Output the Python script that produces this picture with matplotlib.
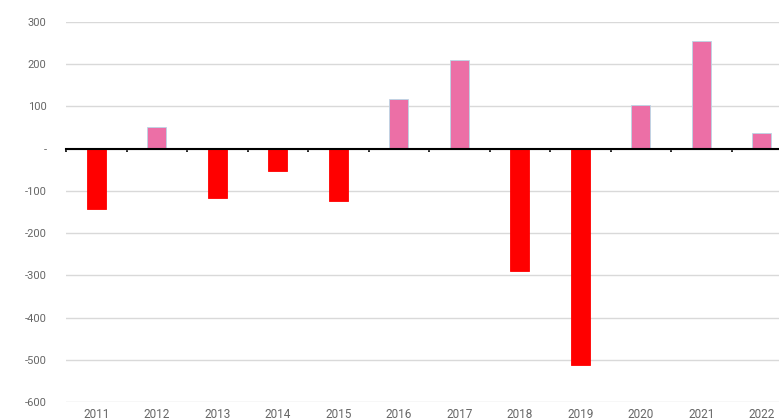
import matplotlib
matplotlib.use("Agg")
import matplotlib.pyplot as plt
import numpy as np

# Data
years = ["2011", "2012", "2013", "2014", "2015", "2016",
         "2017", "2018", "2019", "2020", "2021", "2022"]
values = [-142, 52, -118, -52, -123, 118, 211, -289, -512, 104, 256, 38]
y_ticks = [300, 200, 100, 0, -100, -200, -300, -400, -500, -600]
y_labels = ["300", "200", "100", "-", "-100", "-200", "-300", "-400", "-500", "-600"]

plt.rcParams['font.family'] = ['Roboto', 'DejaVu Sans']

fig = plt.figure(figsize=(7.79, 4.2), dpi=100)
ax = fig.add_axes([66 / 779, 18 / 420, 726 / 779, 380 / 420])

x = np.arange(len(years))
colors = ["#ff0000" if v < 0 else "#ec6fa6" for v in values]
edges = ["#ff0000" if v < 0 else "#b9d7e6" for v in values]
ax.bar(x, values, width=0.31, color=colors, edgecolor=edges, linewidth=0.6, zorder=3)

ax.set_xlim(-0.5, len(years) - 0.5)
ax.set_ylim(-600, 300)

# grid
ax.set_yticks(y_ticks)
ax.set_yticklabels(y_labels, color="#666666", fontsize=8)
ax.tick_params(axis="y", length=0, pad=14)
ax.grid(axis="y", color="#d9d9d9", linewidth=1, zorder=0)

# zero line with small ticks between categories
for s in ["top", "right", "left"]:
    ax.spines[s].set_visible(False)
ax.spines["bottom"].set_position(("data", 0))
ax.spines["bottom"].set_color("black")
ax.spines["bottom"].set_linewidth(1.5)
ax.spines["bottom"].set_zorder(4)
ax.set_xticks(x - 0.5)
ax.set_xticklabels([])
ax.tick_params(axis="x", direction="out", length=2, width=1.2, color="black")

# category labels at the bottom
sec = ax.secondary_xaxis(0)
sec.set_xticks(x)
sec.set_xticklabels(years, color="#666666", fontsize=8.5)
sec.tick_params(length=0, pad=4)
sec.spines["bottom"].set_visible(False)

plt.savefig("out.png", dpi=100)
